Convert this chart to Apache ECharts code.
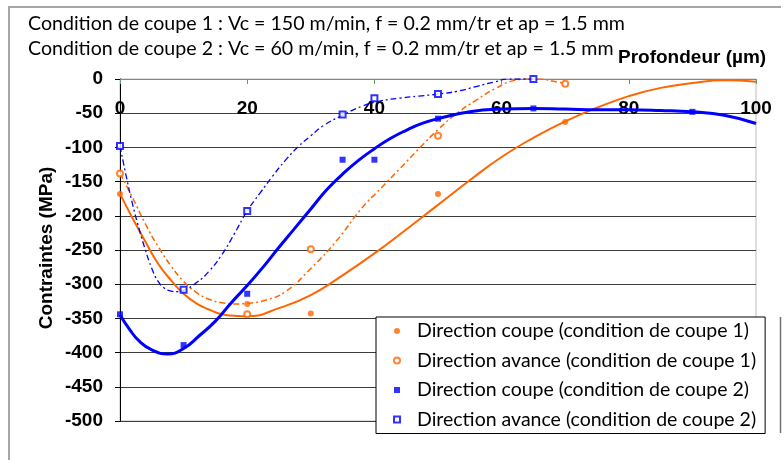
<!DOCTYPE html>
<html><head><meta charset="utf-8">
<script src="https://cdn.jsdelivr.net/npm/echarts@6.0.0/dist/echarts.min.js"></script>
<style>html,body{margin:0;padding:0;background:#fff}#c{width:784px;height:460px}</style>
</head><body><div id="c"></div>
<script>
// ---- text ----
const titleLines = [
  'Condition de coupe 1 : Vc = 150 m/min, f = 0.2 mm/tr et ap = 1.5 mm',
  'Condition de coupe 2 : Vc = 60 m/min, f = 0.2 mm/tr et ap = 1.5 mm'
];
const xAxisTitle = 'Profondeur (µm)';
const yAxisTitle = 'Contraintes (MPa)';
const legendNames = [
  'Direction coupe (condition de coupe 1)',
  'Direction avance (condition de coupe 1)',
  'Direction coupe (condition de coupe 2)',
  'Direction avance (condition de coupe 2)'
];
const xTicks = [0, 20, 40, 60, 80, 100];
const yTicks = [0, -50, -100, -150, -200, -250, -300, -350, -400, -450, -500];

// ---- measured points ----
const depthCoupe1 = [0, 20, 30, 50, 70];
const coupe1 = [-168, -329, -343, -168, -63];
const depthAvance1 = [0, 20, 30, 50, 70];
const avance1 = [-138, -344, -249, -83, -7];
const depthCoupe2 = [0, 10, 20, 35, 40, 50, 65, 90];
const coupe2 = [-344, -389, -314, -118, -118, -58, -43, -48];
const depthAvance2 = [0, 10, 20, 35, 40, 50, 65];
const avance2 = [-98, -308, -193, -52, -28, -22, 0];

// ---- trend curves ----
const trendCoupe1X = [0, 2, 4, 6, 8, 10, 12, 14, 16, 18, 20, 25, 30, 35, 40, 45, 50, 55, 60, 65, 70, 75, 80, 85, 90, 95, 100];
const trendCoupe1Y = [-168, -204, -238, -270, -294, -314, -328, -337, -344, -346, -347, -335, -316, -287, -255, -220, -184, -148, -114, -86, -62, -42, -25, -13, -6, -2, -4];
const trendAvance1X = [0, 2, 4, 6, 8, 10, 12, 14, 16, 18, 20, 23, 26, 30, 34, 38, 41, 44, 47, 50, 53, 56, 59, 62, 64, 66, 68, 70];
const trendAvance1Y = [-138, -174, -212, -245, -273, -296, -312, -322, -327, -329, -328, -323, -311, -277, -237, -189, -160, -131, -102, -74, -50, -31, -14, -2, 0, 0, -3, -7];
const trendCoupe2X = [0, 1.5, 3, 5, 7.5, 10, 12.5, 15, 17.5, 20, 22.5, 25, 27.5, 30, 32.5, 35, 37.5, 40, 42.5, 45, 47.5, 50, 55, 60, 65, 70, 75, 80, 85, 90, 95, 100];
const trendCoupe2Y = [-345, -366, -383, -396, -402, -394, -375, -354, -327, -302, -275, -246, -218, -190, -162, -139, -119, -102, -87, -75, -65, -58, -48, -44, -43, -44, -45, -45, -46, -48, -53, -65];
const trendAvance2X = [0, 1, 2, 3, 4, 5, 6, 7, 8, 9, 10, 12, 14, 16, 18, 20, 22, 24, 26, 28, 30, 32, 35, 38, 41, 44, 47, 50, 53, 56, 59, 61, 63, 65];
const trendAvance2Y = [-98, -143, -184, -219, -250, -277, -296, -306, -310, -311, -309, -298, -281, -257, -226, -193, -167, -142, -119, -99, -83, -68, -53, -40, -32, -28, -25, -22, -18, -11, -4, 0, 0, 0];

const ORANGE = '#FF6600', BLUE = '#0000FF';
const zip = (a, b) => a.map((v, i) => [v, b[i]]);
const AX = '"Liberation Sans", Arial, sans-serif';
const CAL = 'Lato, "Open Sans", sans-serif';

const chart = echarts.init(document.getElementById('c'), null, {renderer: 'canvas'});
chart.setOption({
  animation: false,
  backgroundColor: '#fff',
  grid: {left: 120, top: 79, width: 636, height: 342, show: true, borderColor: '#bdbdbd', borderWidth: 1, backgroundColor: 'transparent'},
  xAxis: {
    type: 'value', position: 'top', min: xTicks[0], max: xTicks[xTicks.length - 1], interval: 20,
    axisLine: {show: true, onZero: false, lineStyle: {color: '#55A06E', width: 1}},
    axisTick: {show: true, inside: true, length: 5, lineStyle: {color: '#55A06E'}},
    axisLabel: {inside: true, margin: 20, color: '#000', fontFamily: AX, fontWeight: 'bold', fontSize: 19, showMinLabel: true, showMaxLabel: true},
    splitLine: {show: false}
  },
  yAxis: {
    type: 'value', min: yTicks[yTicks.length - 1], max: yTicks[0], interval: 50,
    axisLine: {show: true, onZero: false, lineStyle: {color: '#000', width: 1}},
    axisTick: {show: true, inside: false, length: 5, lineStyle: {color: '#000'}},
    axisLabel: {margin: 17, color: '#000', fontFamily: AX, fontWeight: 'bold', fontSize: 19},
    splitLine: {show: true, lineStyle: {color: '#3c3c3c', width: 1}}
  },
  legend: {
    data: legendNames, orient: 'vertical', left: 376, top: 317,
    itemWidth: 6, itemHeight: 6, itemGap: 9.5,
    padding: [4, 9, 4, 17],
    backgroundColor: '#fff', borderColor: '#000', borderWidth: 1,
    textStyle: {fontFamily: CAL, fontSize: 19.5, color: '#000', lineHeight: 20, padding: [0, 0, 0, 12]},
    selectedMode: false
  },
  graphic: [
    {type: 'line', shape: {x1: 9, y1: 7, x2: 9, y2: 470}, style: {stroke: '#a6a6a6', lineWidth: 2}, silent: true},
    {type: 'line', shape: {x1: 8, y1: 7, x2: 781, y2: 7}, style: {stroke: '#a6a6a6', lineWidth: 2}, silent: true},
    {type: 'line', shape: {x1: 780.5, y1: 317, x2: 780.5, y2: 433}, style: {stroke: '#707070', lineWidth: 1.5}, silent: true},
    {type: 'text', x: 28, y: 24, style: {text: titleLines[0], font: '19.6px ' + CAL, fill: '#000', textVerticalAlign: 'middle'}, silent: true},
    {type: 'text', x: 28, y: 49, style: {text: titleLines[1], font: '19.6px ' + CAL, fill: '#000', textVerticalAlign: 'middle'}, silent: true},
    {type: 'text', x: 618, y: 58, style: {text: xAxisTitle, font: 'bold 19px ' + AX, fill: '#000', textVerticalAlign: 'middle'}, silent: true},
    {type: 'text', x: 47, y: 248, rotation: Math.PI / 2, style: {text: yAxisTitle, font: 'bold 19px ' + AX, fill: '#000', textAlign: 'center', textVerticalAlign: 'middle'}, silent: true}
  ],
  series: [
    {type: 'line', data: zip(trendCoupe1X, trendCoupe1Y), smooth: true, symbol: 'none', clip: true, silent: true, z: 3,
      lineStyle: {color: ORANGE, width: 2}},
    {type: 'line', data: zip(trendAvance1X, trendAvance1Y), smooth: true, symbol: 'none', clip: true, silent: true, z: 3,
      lineStyle: {color: ORANGE, width: 1.5, type: [6, 3, 2, 3]}},
    {type: 'line', data: zip(trendCoupe2X, trendCoupe2Y), smooth: true, symbol: 'none', clip: true, silent: true, z: 3,
      lineStyle: {color: BLUE, width: 3}},
    {type: 'line', data: zip(trendAvance2X, trendAvance2Y), smooth: true, symbol: 'none', clip: true, silent: true, z: 3,
      lineStyle: {color: BLUE, width: 1.3, type: [6, 3, 2, 3]}},
    {name: legendNames[0], type: 'scatter', data: zip(depthCoupe1, coupe1), symbol: 'circle', symbolSize: 6, itemStyle: {color: ORANGE}, z: 5},
    {name: legendNames[1], type: 'scatter', data: zip(depthAvance1, avance1), symbol: 'emptyCircle', symbolSize: 6, itemStyle: {color: ORANGE, borderWidth: 1}, z: 5},
    {name: legendNames[2], type: 'scatter', data: zip(depthCoupe2, coupe2), symbol: 'rect', symbolSize: 6, itemStyle: {color: BLUE}, z: 5},
    {name: legendNames[3], type: 'scatter', data: zip(depthAvance2, avance2), symbol: 'emptyRect', symbolSize: 6, itemStyle: {color: BLUE, borderWidth: 1}, z: 5}
  ]
});
</script>
</body></html>
